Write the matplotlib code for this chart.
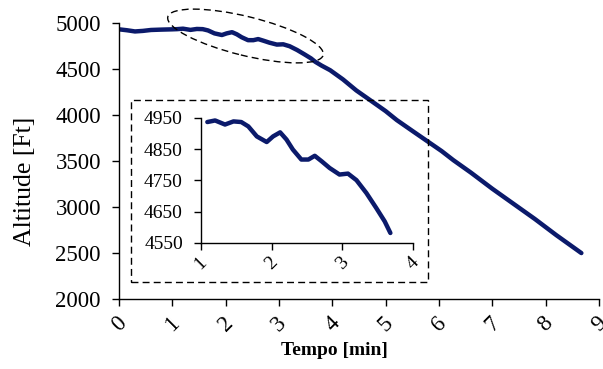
import numpy as np
import matplotlib
matplotlib.use('Agg')
import matplotlib.pyplot as plt
from matplotlib.patches import Ellipse, Rectangle

plt.rcParams['font.family'] = ['Liberation Serif', 'DejaVu Serif']

# Altitude profile (minutes, feet)
t_start = [0.0, 0.15, 0.3, 0.45, 0.6, 0.8, 1.0]
alt_start = [4935, 4925, 4912, 4918, 4928, 4932, 4935]

# zoomed part (also drawn in the inset)
t_zoom = [1.09, 1.2, 1.34, 1.46, 1.57, 1.67, 1.79, 1.93, 2.02, 2.12, 2.21, 2.3,
          2.42, 2.52, 2.61, 2.71, 2.82, 2.96, 3.08, 3.2, 3.34, 3.48, 3.6, 3.68]
alt_zoom = [4937, 4942, 4929, 4939, 4937, 4923, 4891, 4873, 4891, 4904, 4881, 4849,
            4817, 4817, 4829, 4811, 4790, 4769, 4772, 4751, 4710, 4662, 4619, 4582]

t_end = [3.8, 3.96, 4.2, 4.45, 4.71, 5.0, 5.21, 5.5, 5.8, 6.05, 6.27, 6.6, 7.0,
         7.4, 7.8, 8.2, 8.67]
alt_end = [4540, 4490, 4390, 4270, 4164, 4045, 3947, 3830, 3710, 3610, 3511, 3375,
           3200, 3035, 2870, 2695, 2500]

tempo = t_start + t_zoom + t_end
altitude = alt_start + alt_zoom + alt_end

main_xticks = list(range(0, 10))
main_yticks = [2000, 2500, 3000, 3500, 4000, 4500, 5000]
zoom_xticks = [1, 2, 3, 4]
zoom_yticks = [4550, 4650, 4750, 4850, 4950]

line_color = '#0b1a6b'

fig = plt.figure(figsize=(6.03, 3.69), dpi=100)
ax = fig.add_axes([0.1973, 0.1897, 0.796, 0.747])

ax.plot(tempo, altitude, color=line_color, linewidth=3.2, solid_capstyle='round')
ax.set_xlim(0, 9)
ax.set_ylim(2000, 5000)
ax.set_xticks(main_xticks)
ax.set_yticks(main_yticks)
ax.set_xticklabels(main_xticks, fontsize=16.5, rotation=45, ha='center')
ax.set_yticklabels(main_yticks, fontsize=16.5)
ax.spines['top'].set_visible(False)
ax.spines['right'].set_visible(False)
for s in ['left', 'bottom']:
    ax.spines[s].set_linewidth(1.0)
ax.tick_params(axis='both', direction='out', length=5, width=1.0)
ax.tick_params(axis='y', pad=8)
ax.tick_params(axis='x', pad=5)

ax.set_xlabel('Tempo [min]', fontsize=14, fontweight='bold')
ax.xaxis.set_label_coords(0.448, -0.156)
ax.set_ylabel('Altitude [Ft]', fontsize=18.5)
ax.yaxis.set_label_coords(-0.172, 0.428)

# dashed ellipse marking the zoomed region (figure inches)
ell = Ellipse((2.455, 3.33), 1.60, 0.39, angle=-13.8, transform=fig.dpi_scale_trans,
              fill=False, edgecolor='black', linestyle=(0, (5, 3)), linewidth=1.0)
fig.patches.append(ell)

# dashed frame around the inset
box = Rectangle((1.31, 0.87), 2.97, 1.82, transform=fig.dpi_scale_trans,
                fill=False, edgecolor='black', linestyle=(0, (5, 3)), linewidth=1.0)
fig.patches.append(box)

# inset
ax2 = fig.add_axes([0.3333, 0.3415, 0.3516, 0.3388])
ax2.patch.set_alpha(0)
ax2.plot(t_zoom, alt_zoom, color=line_color, linewidth=3.2, solid_capstyle='round')
ax2.set_xlim(1, 4)
ax2.set_ylim(4550, 4950)
ax2.set_xticks(zoom_xticks)
ax2.set_yticks(zoom_yticks)
ax2.set_xticklabels(zoom_xticks, fontsize=14, rotation=45, ha='center')
ax2.set_yticklabels(zoom_yticks, fontsize=14)
ax2.spines['top'].set_visible(False)
ax2.spines['right'].set_visible(False)
for s in ['left', 'bottom']:
    ax2.spines[s].set_linewidth(1.0)
ax2.tick_params(axis='both', direction='out', length=5, width=1.0)
ax2.tick_params(axis='y', pad=8)
ax2.tick_params(axis='x', pad=3)

fig.savefig('out.png', dpi=100)
